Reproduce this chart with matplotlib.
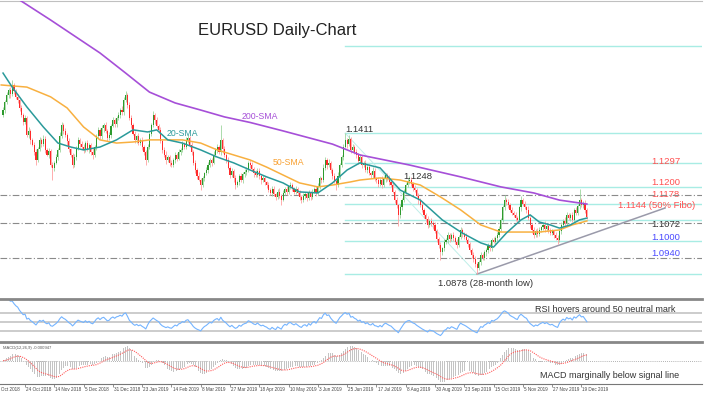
import numpy as np
import pandas as pd
import matplotlib
matplotlib.use("Agg")
import matplotlib.pyplot as plt
import matplotlib.transforms as mtransforms

plt.rcParams['font.family'] = ['Liberation Sans', 'DejaVu Sans']

# daily closes, in pips (11500 = 1.1500)
closes_pips = [
    11500, 11530, 11555, 11575, 11560, 11594, 11570, 11550, 11537, 11505, 11480, 11455, 11470, 11405, 11420, 11385, 11367, 11340, 11310, 11350,
    11386, 11370, 11390, 11348, 11330, 11345, 11291, 11280, 11300, 11320, 11348, 11400, 11442, 11420, 11405, 11380, 11350, 11329, 11291, 11320,
    11355, 11386, 11370, 11360, 11348, 11375, 11350, 11367, 11340, 11329, 11360, 11400, 11424, 11400, 11430, 11442, 11420, 11395, 11405, 11440,
    11461, 11445, 11470, 11480, 11500, 11490, 11537, 11556, 11520, 11470, 11442, 11410, 11386, 11400, 11375, 11386, 11360, 11340, 11310, 11360,
    11410, 11442, 11480, 11460, 11440, 11424, 11380, 11348, 11330, 11310, 11320, 11300, 11291, 11310, 11329, 11315, 11340, 11348, 11370, 11360,
    11386, 11395, 11367, 11340, 11300, 11272, 11250, 11235, 11215, 11240, 11260, 11272, 11290, 11310, 11300, 11330, 11348, 11360, 11340, 11386,
    11350, 11330, 11310, 11280, 11253, 11270, 11240, 11215, 11225, 11250, 11234, 11255, 11265, 11272, 11300, 11291, 11275, 11260, 11253, 11270,
    11250, 11234, 11240, 11225, 11215, 11195, 11185, 11200, 11180, 11170, 11190, 11175, 11160, 11185, 11200, 11190, 11210, 11215, 11200, 11190,
    11200, 11185, 11170, 11160, 11175, 11180, 11165, 11185, 11170, 11190, 11200, 11185, 11210, 11240, 11234, 11280, 11310, 11290, 11300, 11272,
    11250, 11230, 11215, 11250, 11290, 11320, 11360, 11386, 11370, 11390, 11348, 11360, 11340, 11329, 11305, 11320, 11291, 11300, 11272, 11285,
    11260, 11253, 11270, 11240, 11234, 11220, 11235, 11215, 11240, 11253, 11240, 11225, 11215, 11190, 11160, 11139, 11100, 11130, 11158, 11190,
    11215, 11230, 11235, 11220, 11205, 11196, 11175, 11158, 11140, 11120, 11102, 11085, 11064, 11080, 11070, 11064, 11040, 11010, 10988, 10960,
    10975, 11000, 11007, 11025, 11010, 11026, 11015, 11000, 10988, 11020, 11045, 11030, 11020, 11007, 10990, 10970, 10950, 10935, 10915, 10900,
    10925, 10950, 10940, 10960, 10969, 10985, 10975, 11007, 11000, 11015, 11026, 11050, 11083, 11130, 11158, 11150, 11139, 11120, 11110, 11102,
    11090, 11083, 11130, 11158, 11145, 11130, 11121, 11090, 11064, 11045, 11026, 11040, 11030, 11045, 11055, 11064, 11050, 11060, 11045, 11035,
    11040, 11026, 11015, 11007, 11040, 11064, 11080, 11070, 11102, 11090, 11100, 11083, 11121, 11110, 11135, 11158, 11139, 11145, 11121, 11095,
]
first_open = 11480

# wick lengths in pips above / below the candle body
upper_wick = [
    10, 8, 14, 6, 12, 18, 9, 7, 11, 5, 13, 8, 10, 6, 15, 9, 7, 12, 10, 8,
    11, 6, 14, 9, 7, 12, 8, 10, 6, 13, 9, 15, 11, 7, 10, 8, 12, 6, 9, 14,
    8, 11, 7, 13, 10, 6, 12, 9, 8, 14, 7, 10, 12, 6, 11, 9, 13, 8, 10, 7,
    12, 9, 6, 11, 8, 14, 10, 16, 7, 9, 12, 8, 10, 6, 13, 9, 11, 7, 8, 12,
    10, 7, 14, 9, 11, 6, 12, 8, 10, 13, 7, 9, 11, 6, 12, 8, 10, 7, 13, 9,
    11, 8, 6, 12, 9, 10, 7, 13, 8, 11, 6, 10, 12, 7, 9, 14, 8, 10, 6, 55,
    9, 11, 7, 12, 8, 10, 6, 13, 9, 7, 11, 8, 12, 10, 6, 9, 13, 7, 11, 8,
    10, 6, 12, 9, 7, 11, 8, 13, 10, 6, 9, 12, 7, 11, 8, 10, 6, 13, 9, 7,
    11, 8, 12, 6, 10, 9, 7, 13, 8, 11, 6, 10, 12, 9, 7, 14, 10, 8, 12, 6,
    9, 11, 7, 13, 8, 10, 12, 25, 9, 14, 7, 11, 8, 10, 6, 12, 9, 7, 11, 8,
    10, 6, 12, 9, 7, 11, 8, 13, 10, 6, 9, 12, 7, 11, 8, 10, 6, 13, 9, 11,
    8, 12, 13, 9, 7, 11, 6, 10, 8, 12, 9, 7, 11, 6, 10, 8, 12, 9, 7, 11,
    6, 10, 8, 13, 9, 7, 11, 8, 12, 6, 10, 9, 7, 13, 8, 11, 6, 10, 12, 9,
    7, 11, 8, 10, 6, 12, 9, 7, 11, 8, 13, 10, 6, 9, 21, 7, 11, 8, 10, 6,
    12, 9, 7, 17, 8, 10, 6, 13, 9, 7, 11, 8, 12, 10, 6, 9, 13, 7, 11, 8,
    10, 6, 12, 9, 7, 11, 8, 13, 10, 6, 9, 12, 7, 11, 8, 42, 9, 10, 12, 8,
]
lower_wick = [
    9, 12, 7, 10, 14, 6, 11, 8, 13, 9, 7, 12, 10, 8, 11, 14, 6, 10, 18, 9,
    7, 12, 9, 11, 6, 13, 8, 46, 10, 7, 12, 9, 6, 11, 8, 13, 10, 7, 12, 9,
    11, 6, 10, 8, 13, 9, 7, 12, 10, 15, 8, 11, 6, 10, 9, 13, 7, 12, 8, 10,
    6, 11, 9, 7, 12, 8, 10, 6, 13, 9, 11, 7, 10, 12, 8, 9, 14, 11, 20, 7,
    10, 8, 6, 12, 9, 11, 7, 13, 10, 16, 8, 12, 9, 7, 11, 10, 6, 12, 8, 9,
    7, 11, 9, 13, 8, 10, 12, 6, 20, 9, 11, 7, 10, 8, 12, 6, 9, 11, 7, 10,
    12, 8, 10, 6, 11, 9, 13, 16, 7, 10, 8, 12, 9, 11, 6, 10, 8, 13, 7, 9,
    11, 14, 8, 10, 12, 7, 9, 11, 6, 13, 8, 10, 20, 7, 9, 12, 8, 11, 6, 10,
    9, 7, 12, 14, 8, 11, 10, 6, 13, 9, 7, 12, 8, 10, 11, 6, 9, 13, 7, 10,
    12, 8, 18, 9, 11, 7, 10, 6, 13, 8, 12, 9, 7, 11, 10, 6, 12, 8, 9, 11,
    7, 10, 12, 8, 11, 14, 9, 10, 6, 12, 8, 11, 9, 7, 13, 10, 40, 8, 11, 9,
    10, 7, 12, 8, 11, 9, 6, 13, 10, 8, 11, 9, 12, 7, 10, 14, 8, 11, 13, 30,
    9, 11, 7, 10, 12, 8, 13, 9, 11, 7, 10, 12, 8, 9, 11, 7, 13, 10, 9, 22,
    8, 11, 9, 7, 12, 10, 8, 11, 6, 9, 12, 8, 10, 7, 11, 9, 12, 8, 10, 7,
    11, 9, 8, 12, 10, 7, 11, 9, 13, 10, 12, 8, 11, 9, 7, 10, 12, 8, 11, 9,
    8, 12, 10, 17, 9, 11, 7, 10, 12, 8, 11, 9, 13, 10, 8, 11, 9, 12, 10, 8,
]

# moving averages (bar index, pips)
sma200_bar = [0, 9, 26, 53, 67, 80, 94, 108, 121, 135, 153, 180, 195, 222, 250, 272, 290, 304, 319]
sma200_pips = [11961, 11916, 11840, 11715, 11639, 11567, 11526, 11499, 11473, 11452, 11420, 11370, 11329, 11291, 11246, 11208, 11185, 11158, 11143]
sma20_bar = [0, 5, 13, 22, 30, 37, 44, 53, 62, 71, 79, 84, 90, 98, 108, 117, 126, 135, 144, 153,
             162, 172, 180, 188, 195, 206, 217, 228, 240, 251, 261, 268, 275, 283, 288, 293, 299, 304, 310, 315, 319]
sma20_pips = [11639, 11586, 11511, 11435, 11374, 11359, 11348, 11359, 11386, 11424, 11416, 11424, 11386, 11374, 11348, 11321, 11299, 11272, 11246, 11223,
              11189, 11185, 11223, 11272, 11299, 11280, 11196, 11158, 11083, 11033, 10996, 10980, 11033, 11083, 11102, 11075, 11064, 11052, 11064, 11083, 11090]
sma50_bar = [-1, 13, 26, 35, 44, 53, 62, 71, 80, 90, 98, 108, 117, 126, 135, 144, 153, 162, 172,
             180, 190, 195, 206, 217, 228, 239, 250, 261, 272, 283, 293, 304, 311, 319]
sma50_pips = [11594, 11586, 11549, 11507, 11435, 11386, 11374, 11378, 11386, 11386, 11386, 11374, 11348, 11329, 11310, 11283, 11253, 11223, 11208,
              11215, 11227, 11234, 11242, 11234, 11215, 11170, 11121, 11064, 11037, 11037, 11037, 11045, 11064, 11079]

# fibonacci levels of the 1.1411 -> 1.0878 move, plus key levels
fib_levels = [1.0878, 1.1004, 1.1082, 1.1144, 1.1207, 1.1297, 1.1411, 1.1740]
dashdot_levels = [1.1178, 1.1072, 1.0940]
level_texts = ["1.1297", "1.1200", "1.1178", "1.1144 (50% Fibo)", "1.1072", "1.1000", "1.0940"]
level_colors = ["#ff5050", "#ff5050", "#ff5050", "#ff5050", "#333333", "#4a4aff", "#4a4aff"]
level_text_y = [1.1306, 1.1223, 1.1181, 1.1139, 1.1067, 1.1018, 1.0954]
level_text_x = [354, 354, 354, 336, 354, 354, 354]

tick_labels = ["4 Oct 2018", "24 Oct 2018", "14 Nov 2018", "5 Dec 2018", "31 Dec 2018", "23 Jan 2019",
               "14 Feb 2019", "8 Mar 2019", "27 Mar 2019", "18 Apr 2019", "10 May 2019", "3 Jun 2019",
               "25 Jun 2019", "17 Jul 2019", "8 Aug 2019", "30 Aug 2019", "23 Sep 2019", "15 Oct 2019",
               "5 Nov 2019", "27 Nov 2019", "19 Dec 2019"]
tick_bars = [-4 + 16 * k for k in range(len(tick_labels))]

# ---- derived series
c = np.array(closes_pips) / 10000
o = np.r_[first_open / 10000, c[:-1]]
n = min(len(c), len(upper_wick), len(lower_wick))
c, o = c[:n], o[:n]
hi = np.maximum(o, c) + np.array(upper_wick[:n]) / 10000
lo = np.minimum(o, c) - np.array(lower_wick[:n]) / 10000
idx = np.arange(n)

s = pd.Series(c)
d = s.diff()
gain = d.clip(lower=0).ewm(alpha=1 / 14, adjust=False).mean()
loss = (-d.clip(upper=0)).ewm(alpha=1 / 14, adjust=False).mean()
rsi = 100 - 100 / (1 + gain / loss)

macd = s.ewm(span=12, adjust=False).mean() - s.ewm(span=26, adjust=False).mean()
signal = macd.ewm(span=9, adjust=False).mean()

# ---- figure
fig = plt.figure(figsize=(7.12, 3.99), dpi=100)
W = 702 / 712
ax = fig.add_axes([0, 1 - 297 / 399, W, 296 / 399])
ax_rsi = fig.add_axes([0, 1 - 342 / 399, W, 43 / 399])
ax_macd = fig.add_axes([0, 1 - 384 / 399, W, 42 / 399])
xlim = (-1.66, 381.9)

for a in (ax, ax_rsi, ax_macd):
    a.set_xlim(xlim)
    a.set_yticks([])
    for sp in a.spines.values():
        sp.set_visible(False)
ax.set_xticks([])
ax_rsi.set_xticks([])

ax.set_ylim(1.0791, 1.1912)
ax.spines['top'].set_visible(True)
ax.spines['top'].set_color('#c0c0c0')

# levels
start = 187
for lv in fib_levels:
    ax.plot([start, xlim[1]], [lv, lv], color='#a8ece4', lw=1.0, zorder=1)
ax.plot([187, 259], [1.1411, 1.0878], color='#bfeee8', lw=0.7, zorder=1)
for lv in dashdot_levels:
    ax.plot(xlim, [lv, lv], color='#8a8a8a', lw=0.8, ls=(0, (6, 2, 1, 2)), zorder=2)
ax.plot([259, 361.7], [1.0878, 1.1128], color='#9a9aaa', lw=1.1, zorder=2)

# candles
up = c >= o
body_lo = np.minimum(o, c)
body_h = np.maximum(np.abs(c - o), 0.00008)
ax.vlines(idx[up], lo[up], hi[up], color='#9ed49e', lw=0.6, zorder=3)
ax.vlines(idx[~up], lo[~up], hi[~up], color='#ffa0a0', lw=0.6, zorder=3)
ax.bar(idx[up], body_h[up], bottom=body_lo[up], width=0.6, color='#2e9a2e', lw=0, zorder=4)
ax.bar(idx[~up], body_h[~up], bottom=body_lo[~up], width=0.6, color='#ff2a2a', lw=0, zorder=4)

# moving averages
ax.plot(sma200_bar, np.array(sma200_pips) / 10000, color='#a64fd8', lw=1.2, zorder=5)
ax.plot(sma50_bar, np.array(sma50_pips) / 10000, color='#f8b040', lw=1.1, zorder=5)
ax.plot(sma20_bar, np.array(sma20_pips) / 10000, color='#2a9a9a', lw=1.1, zorder=6)

# texts
fig.text(198 / 712, 1 - 31 / 399, "EURUSD Daily-Chart", fontsize=12, color='#222222', va='center', ha='left')
ax.text(130.6, 1.1473, "200-SMA", color='#a64fd8', fontsize=6.3, va='center')
ax.text(89.6, 1.1412, "20-SMA", color='#2a9a9a', fontsize=6.3, va='center')
ax.text(147.5, 1.1299, "50-SMA", color='#f8a030', fontsize=6.3, va='center')
ax.text(187, 1.1427, "1.1411", color='#333333', fontsize=6.8, va='center')
ax.text(218.6, 1.1246, "1.1248", color='#333333', fontsize=6.8, va='center')
ax.text(237.7, 1.0844, "1.0878 (28-month low)", color='#333333', fontsize=6.8, va='center')
for t, col, yy, xx in zip(level_texts, level_colors, level_text_y, level_text_x):
    ax.text(xx, yy, t, color=col, fontsize=6.8, va='center', zorder=1.5)

# RSI panel
ax_rsi.set_ylim(5.5, 101)
for lv in (70, 50, 30):
    ax_rsi.axhline(lv, color='#cccccc', lw=1.4, zorder=1)
ax_rsi.plot(idx, rsi, color='#74b4ff', lw=0.8, zorder=2)
ax_rsi.spines['top'].set_visible(True)
ax_rsi.spines['top'].set_color('#888888')
ax_rsi.spines['top'].set_linewidth(2)
ax_rsi.text(290.7, 0.767, "RSI hovers around 50 neutral mark", transform=mtransforms.blended_transform_factory(ax_rsi.transData, ax_rsi.transAxes),
            fontsize=6.5, color='#333333', va='center')

# MACD panel
m_lo = macd.min() * 1.08
ax_macd.set_ylim(m_lo, -m_lo * 18.7 / 23.3)
ax_macd.bar(idx, macd, width=0.45, color='#c4c4c4', lw=0, zorder=2)
ax_macd.axhline(0, color='#999999', lw=0.6, ls=(0, (1, 1.5)), zorder=1)
ax_macd.plot(idx, signal, color='#ff5a5a', lw=0.8, ls=(0, (1, 1)), zorder=3)
ax_macd.spines['top'].set_visible(True)
ax_macd.spines['top'].set_color('#888888')
ax_macd.spines['top'].set_linewidth(2)
ax_macd.spines['bottom'].set_visible(True)
ax_macd.spines['bottom'].set_color('#777777')
ax_macd.spines['bottom'].set_linewidth(0.8)
ax_macd.text(0.004, 0.86, "MACD(12,26,9) -0.000947", transform=ax_macd.transAxes, fontsize=3, color='#555555', va='center')
blend = mtransforms.blended_transform_factory(ax_macd.transData, ax_macd.transAxes)
ax_macd.text(293.4, 0.2, "MACD marginally below signal line", transform=blend, fontsize=6.5, color='#333333', va='center')

ax_macd.set_xticks([t for t in tick_bars if t > xlim[0]])
ax_macd.tick_params(axis='x', direction='out', length=2.5, width=0.5, color='#666666', labelbottom=False)
for t, lab in zip(tick_bars, tick_labels):
    ax_macd.text(t + 0.6, -0.06, lab, transform=blend, fontsize=3.3, color='#444444', ha='left', va='top')

fig.savefig("out.png", dpi=100)
